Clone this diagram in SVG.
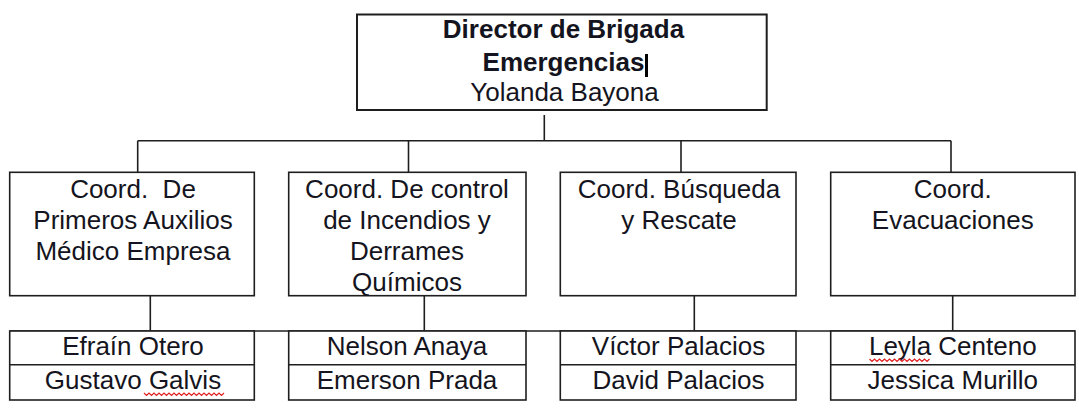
<svg xmlns="http://www.w3.org/2000/svg" width="1079" height="408" viewBox="0 0 1079 408">
<style>
.box{fill:#fff;stroke:#1e1e1e;stroke-width:1.6}
.ln{fill:none;stroke:#1e1e1e;stroke-width:1.6}
text{font-family:"Liberation Sans",Arial,sans-serif;font-size:26px;fill:#141420;text-anchor:middle}
.b{font-weight:bold}
.sq{fill:none;stroke:#e02020;stroke-width:1.2}
</style>
<rect width="1079" height="408" fill="#fff"/>
<g id="connectors">
<line class="ln" x1="544.3" y1="115" x2="544.3" y2="140.7"/>
<line class="ln" x1="137.7" y1="140.7" x2="951" y2="140.7"/>
<line class="ln" x1="137.7" y1="140.7" x2="137.7" y2="172.3"/>
<line class="ln" x1="408.5" y1="140.7" x2="408.5" y2="172.3"/>
<line class="ln" x1="681" y1="140.7" x2="681" y2="172.3"/>
<line class="ln" x1="951" y1="140.7" x2="951" y2="172.3"/>
<line class="ln" x1="150.3" y1="295.7" x2="150.3" y2="331"/>
<line class="ln" x1="424.3" y1="295.7" x2="424.3" y2="331"/>
<line class="ln" x1="694.3" y1="295.7" x2="694.3" y2="331"/>
<line class="ln" x1="952.7" y1="295.7" x2="952.7" y2="331"/>
<line class="ln" x1="9.7" y1="331" x2="1075" y2="331"/>
</g>
<g id="director">
<rect class="box" x="357" y="14.5" width="409.7" height="95.5" style="stroke-width:2"/>
<text class="b" x="563.5" y="37.7">Director de Brigada</text>
<text class="b" x="563.5" y="70.7">Emergencias</text>
<rect x="645" y="54" width="3" height="23" fill="#000"/>
<text x="564.5" y="100.7">Yolanda Bayona</text>
</g>
<g id="coord-primeros-auxilios">
<rect class="box" x="9.7" y="172.3" width="244.6" height="123.4"/>
<text x="133" y="197.5" xml:space="preserve">Coord.  De</text>
<text x="133" y="228.5">Primeros Auxilios</text>
<text x="133" y="259.5">Médico Empresa</text>
</g>
<g id="coord-incendios">
<rect class="box" x="288.7" y="172.3" width="237.3" height="123.4"/>
<text x="407" y="197.5">Coord. De control</text>
<text x="407" y="228.5">de Incendios y</text>
<text x="407" y="259.5">Derrames</text>
<text x="407" y="290.5">Químicos</text>
</g>
<g id="coord-busqueda">
<rect class="box" x="560.3" y="172.3" width="235.7" height="123.4"/>
<text x="679" y="197.5">Coord. Búsqueda</text>
<text x="679" y="228.5">y Rescate</text>
</g>
<g id="coord-evacuaciones">
<rect class="box" x="830.7" y="172.3" width="244.3" height="123.4"/>
<text x="952.8" y="197.5">Coord.</text>
<text x="952.8" y="228.5">Evacuaciones</text>
</g>
<g id="team-primeros-auxilios">
<rect class="box" x="9.7" y="331" width="244.6" height="69"/>
<line class="ln" x1="9.7" y1="364.7" x2="254.3" y2="364.7"/>
<text x="133" y="355.3">Efraín Otero</text>
<text x="133" y="389">Gustavo Galvis</text>
<path class="sq" d="M144 393 l2.5 2.5 l2.5 -2.5 l2.5 2.5 l2.5 -2.5 l2.5 2.5 l2.5 -2.5 l2.5 2.5 l2.5 -2.5 l2.5 2.5 l2.5 -2.5 l2.5 2.5 l2.5 -2.5 l2.5 2.5 l2.5 -2.5 l2.5 2.5 l2.5 -2.5 l2.5 2.5 l2.5 -2.5 l2.5 2.5 l2.5 -2.5 l2.5 2.5 l2.5 -2.5 l2.5 2.5 l2.5 -2.5 l2.5 2.5 l2.5 -2.5 l2.5 2.5 l2.5 -2.5 l2.5 2.5 l2.5 -2.5 l2.5 2.5 l2.5 -2.5"/>
</g>
<g id="team-incendios">
<rect class="box" x="288.7" y="331" width="237.3" height="69"/>
<line class="ln" x1="288.7" y1="364.7" x2="526" y2="364.7"/>
<text x="407" y="355.3">Nelson Anaya</text>
<text x="407" y="389">Emerson Prada</text>
</g>
<g id="team-busqueda">
<rect class="box" x="560.3" y="331" width="235.7" height="69"/>
<line class="ln" x1="560.3" y1="364.7" x2="796" y2="364.7"/>
<text x="678.5" y="355.3">Víctor Palacios</text>
<text x="678.5" y="389">David Palacios</text>
</g>
<g id="team-evacuaciones">
<rect class="box" x="830.7" y="331" width="244.3" height="69"/>
<line class="ln" x1="830.7" y1="364.7" x2="1075" y2="364.7"/>
<text x="952.8" y="355.3">Leyla Centeno</text>
<text x="952.8" y="389">Jessica Murillo</text>
<path class="sq" d="M869.5 359 l2.5 2.5 l2.5 -2.5 l2.5 2.5 l2.5 -2.5 l2.5 2.5 l2.5 -2.5 l2.5 2.5 l2.5 -2.5 l2.5 2.5 l2.5 -2.5 l2.5 2.5 l2.5 -2.5 l2.5 2.5 l2.5 -2.5 l2.5 2.5 l2.5 -2.5 l2.5 2.5 l2.5 -2.5 l2.5 2.5 l2.5 -2.5 l2.5 2.5 l2.5 -2.5 l2.5 2.5 l2.5 -2.5"/>
</g>
</svg>
